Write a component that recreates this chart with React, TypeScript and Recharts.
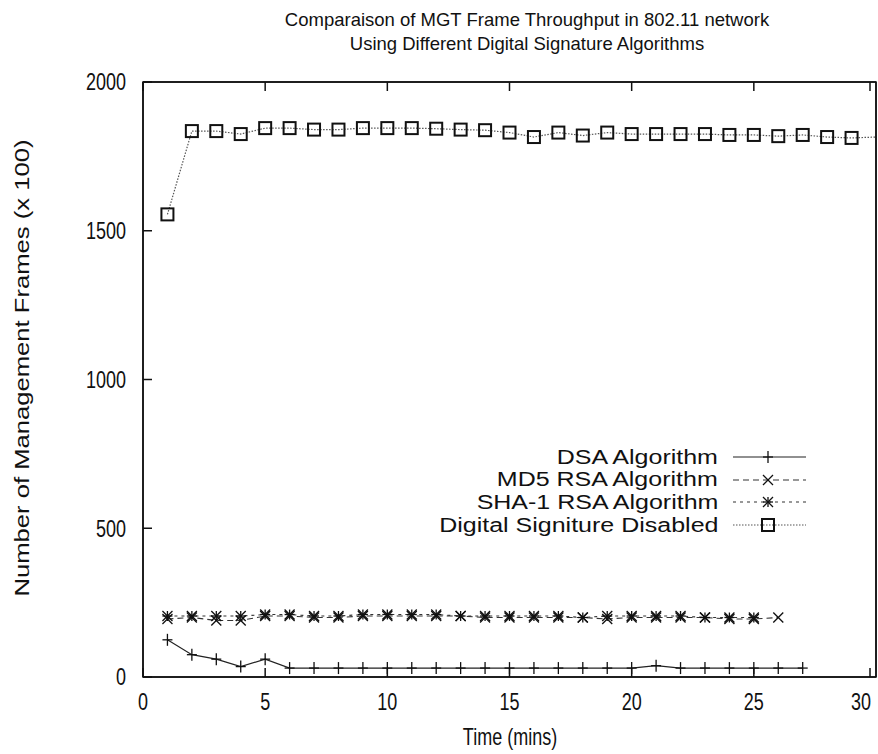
import React from 'react';
import { LineChart, Line, XAxis, YAxis, ReferenceArea } from 'recharts';

const times = [1, 2, 3, 4, 5, 6, 7, 8, 9, 10, 11, 12, 13, 14, 15, 16, 17, 18, 19, 20, 21, 22, 23, 24, 25, 26, 27, 28, 29, 30];

const dsa = [125, 75, 60, 35, 60, 30, 30, 30, 30, 30, 30, 30, 30, 30, 30, 30, 30, 30, 30, 30, 38, 30, 30, 30, 30, 30, 30, null, null, null];
const md5 = [195, 200, 190, 190, 205, 205, 200, 200, 205, 205, 205, 205, 205, 200, 200, 200, 200, 200, 195, 200, 200, 200, 200, 195, 195, 200, null, null, null, null];
const sha1 = [205, 205, 205, 205, 210, 210, 205, 205, 210, 210, 210, 210, 205, 205, 205, 205, 205, 200, 205, 205, 205, 205, 200, 200, 200, null, null, null, null, null];
const disabled = [1555, 1835, 1835, 1825, 1845, 1845, 1840, 1840, 1845, 1845, 1845, 1843, 1840, 1838, 1830, 1815, 1830, 1820, 1830, 1825, 1825, 1825, 1825, 1822, 1822, 1818, 1822, 1815, 1812, 1815];

const xTicks = [0, 5, 10, 15, 20, 25, 30];
const yTicks = [0, 500, 1000, 1500, 2000];

const seriesNames = ['DSA Algorithm', 'MD5 RSA Algorithm', 'SHA-1 RSA Algorithm', 'Digital Signiture Disabled'];

const data = times.map((t, i) => ({
  t,
  dsa: dsa[i],
  md5: md5[i],
  sha1: sha1[i],
  disabled: disabled[i],
}));

const FONT = '"Liberation Sans", Arial, sans-serif';
const INK = '#111';
const TICK = 9;

type Mark = 'plus' | 'cross' | 'star' | 'square';

function drawMark(kind: Mark, cx: number, cy: number, key?: string | number) {
  const s = 5;
  const p = { stroke: INK, strokeWidth: 1.3, fill: 'none' };
  if (kind === 'plus') {
    return (
      <g key={key}>
        <line x1={cx - s} y1={cy} x2={cx + s} y2={cy} {...p} />
        <line x1={cx} y1={cy - 6} x2={cx} y2={cy + 6} {...p} />
      </g>
    );
  }
  if (kind === 'cross') {
    return (
      <g key={key}>
        <line x1={cx - s} y1={cy - s} x2={cx + s} y2={cy + s} {...p} />
        <line x1={cx - s} y1={cy + s} x2={cx + s} y2={cy - s} {...p} />
      </g>
    );
  }
  if (kind === 'star') {
    return (
      <g key={key}>
        <line x1={cx - s} y1={cy} x2={cx + s} y2={cy} {...p} />
        <line x1={cx} y1={cy - s} x2={cx} y2={cy + s} {...p} />
        <line x1={cx - s} y1={cy - s} x2={cx + s} y2={cy + s} {...p} />
        <line x1={cx - s} y1={cy + s} x2={cx + s} y2={cy - s} {...p} />
      </g>
    );
  }
  return <rect key={key} x={cx - 6} y={cy - 6} width={12} height={12} stroke={INK} strokeWidth={2} fill="none" />;
}

const series: { key: string; name: string; mark: Mark; dash?: string; color: string; width: number }[] = [
  { key: 'dsa', name: seriesNames[0], mark: 'plus', color: '#222', width: 1.2 },
  { key: 'md5', name: seriesNames[1], mark: 'cross', dash: '6 4', color: '#333', width: 1.1 },
  { key: 'sha1', name: seriesNames[2], mark: 'star', dash: '3 4', color: '#333', width: 1.1 },
  { key: 'disabled', name: seriesNames[3], mark: 'square', dash: '1.5 1.5', color: '#555', width: 1.2 },
];

function makeDot(kind: Mark) {
  return (props: any) => {
    const { cx, cy, index, payload } = props;
    if (cx == null || cy == null || payload == null || payload.t === 30) {
      return <g key={`e-${index}`} />;
    }
    return drawMark(kind, cx, cy, `d-${index}`);
  };
}

// gnuplot-style inward ticks, labels outside (text slightly stretched vertically like the scan)
const BottomTick = (props: any) => {
  const { x, y, payload } = props;
  const last = payload.value === xTicks[xTicks.length - 1];
  const tx = last ? x + 1 : x;
  const ty = y + 33;
  return (
    <g>
      <line x1={x} y1={y} x2={x} y2={y - TICK} stroke={INK} strokeWidth={1.5} />
      <text
        x={tx}
        y={ty}
        textAnchor={last ? 'end' : 'middle'}
        fontSize={18}
        fontFamily={FONT}
        fill={INK}
        transform={`translate(0 ${ty}) scale(1 1.3) translate(0 ${-ty})`}
      >
        {payload.value}
      </text>
    </g>
  );
};
const TopTick = (props: any) => {
  const { x, y } = props;
  return <line x1={x} y1={y} x2={x} y2={y + TICK} stroke={INK} strokeWidth={1.5} />;
};
const LeftTick = (props: any) => {
  const { x, y, payload } = props;
  const ty = y + 8.5;
  return (
    <g>
      <line x1={x} y1={y} x2={x + TICK} y2={y} stroke={INK} strokeWidth={1.5} />
      <text
        x={x - 17}
        y={ty}
        textAnchor="end"
        fontSize={18}
        fontFamily={FONT}
        fill={INK}
        transform={`translate(0 ${ty}) scale(1 1.3) translate(0 ${-ty})`}
      >
        {payload.value}
      </text>
    </g>
  );
};
const RightTick = (props: any) => {
  const { x, y } = props;
  return <line x1={x} y1={y} x2={x - TICK} y2={y} stroke={INK} strokeWidth={1.5} />;
};

function LegendBox() {
  return (
    <div style={{ fontFamily: FONT, fontSize: 20, color: INK }}>
      {series.map((s) => (
        <div key={s.key} style={{ display: 'flex', alignItems: 'center', justifyContent: 'flex-end', height: 22.6 }}>
          <span style={{ whiteSpace: 'nowrap', display: 'inline-block', transform: 'scaleX(1.25)', transformOrigin: 'right center' }}>
            {s.name}
          </span>
          <svg width={90} height={20} style={{ marginLeft: 14 }}>
            <line x1={1} y1={10} x2={74} y2={10} stroke={s.color} strokeWidth={s.width} strokeDasharray={s.dash} />
            {drawMark(s.mark, 36, 10)}
          </svg>
        </div>
      ))}
    </div>
  );
}

export default function App() {
  return (
    <div style={{ position: 'absolute', left: 0, top: 0, width: 878, height: 754, background: '#fff' }}>
      <div
        style={{
          position: 'absolute',
          left: 0,
          width: 1054,
          top: 8,
          textAlign: 'center',
          fontFamily: FONT,
          fontSize: 18.5,
          lineHeight: '24px',
          color: INK,
        }}
      >
        Comparaison of MGT Frame Throughput in 802.11 network
        <br />
        Using Different Digital Signature Algorithms
      </div>
      <div
        style={{
          position: 'absolute',
          left: 22,
          top: 368,
          transform: 'translate(-50%, -50%) rotate(-90deg) scaleX(1.22)',
          whiteSpace: 'nowrap',
          fontFamily: FONT,
          fontSize: 21,
          color: INK,
        }}
      >
        Number of Management Frames (x 100)
      </div>
      <div
        style={{
          position: 'absolute',
          left: 510,
          top: 738,
          transform: 'translate(-50%, -50%) scaleY(1.3)',
          whiteSpace: 'nowrap',
          fontFamily: FONT,
          fontSize: 18,
          color: INK,
        }}
      >
        Time (mins)
      </div>
      <div style={{ position: 'absolute', left: 300, top: 446, width: 522, zIndex: 2 }}>
        <LegendBox />
      </div>
      <LineChart width={878} height={754} data={data} margin={{ top: 81, right: 1, bottom: 0, left: 0 }}>
        <XAxis
          xAxisId="b"
          dataKey="t"
          type="number"
          domain={[0, 30]}
          ticks={xTicks}
          height={77}
          tickSize={0}
          tickMargin={0}
          tickLine={false}
          stroke={INK}
          strokeWidth={1.5}
          tick={BottomTick}
        />
        <XAxis
          xAxisId="t"
          orientation="top"
          dataKey="t"
          type="number"
          domain={[0, 30]}
          ticks={xTicks}
          height={1}
          tickSize={0}
          tickMargin={0}
          tickLine={false}
          stroke={INK}
          strokeWidth={1.5}
          tick={TopTick}
        />
        <YAxis
          yAxisId="l"
          domain={[0, 2000]}
          ticks={yTicks}
          width={143}
          tickSize={0}
          tickMargin={0}
          tickLine={false}
          stroke={INK}
          strokeWidth={1.5}
          tick={LeftTick}
        />
        <YAxis
          yAxisId="r"
          orientation="right"
          domain={[0, 2000]}
          ticks={yTicks}
          width={1}
          tickSize={0}
          tickMargin={0}
          tickLine={false}
          stroke={INK}
          strokeWidth={1.5}
          tick={RightTick}
        />
        <ReferenceArea
          xAxisId="b"
          yAxisId="l"
          x1={0}
          x2={30}
          y1={0}
          y2={2000}
          fill="none"
          fillOpacity={0}
          stroke={INK}
          strokeWidth={1.5}
        />
        {series.map((s) => (
          <Line
            key={s.key}
            xAxisId="b"
            yAxisId="l"
            dataKey={s.key}
            name={s.name}
            type="linear"
            stroke={s.color}
            strokeWidth={s.width}
            strokeDasharray={s.dash}
            dot={makeDot(s.mark)}
            activeDot={false}
            isAnimationActive={false}
          />
        ))}
      </LineChart>
    </div>
  );
}
